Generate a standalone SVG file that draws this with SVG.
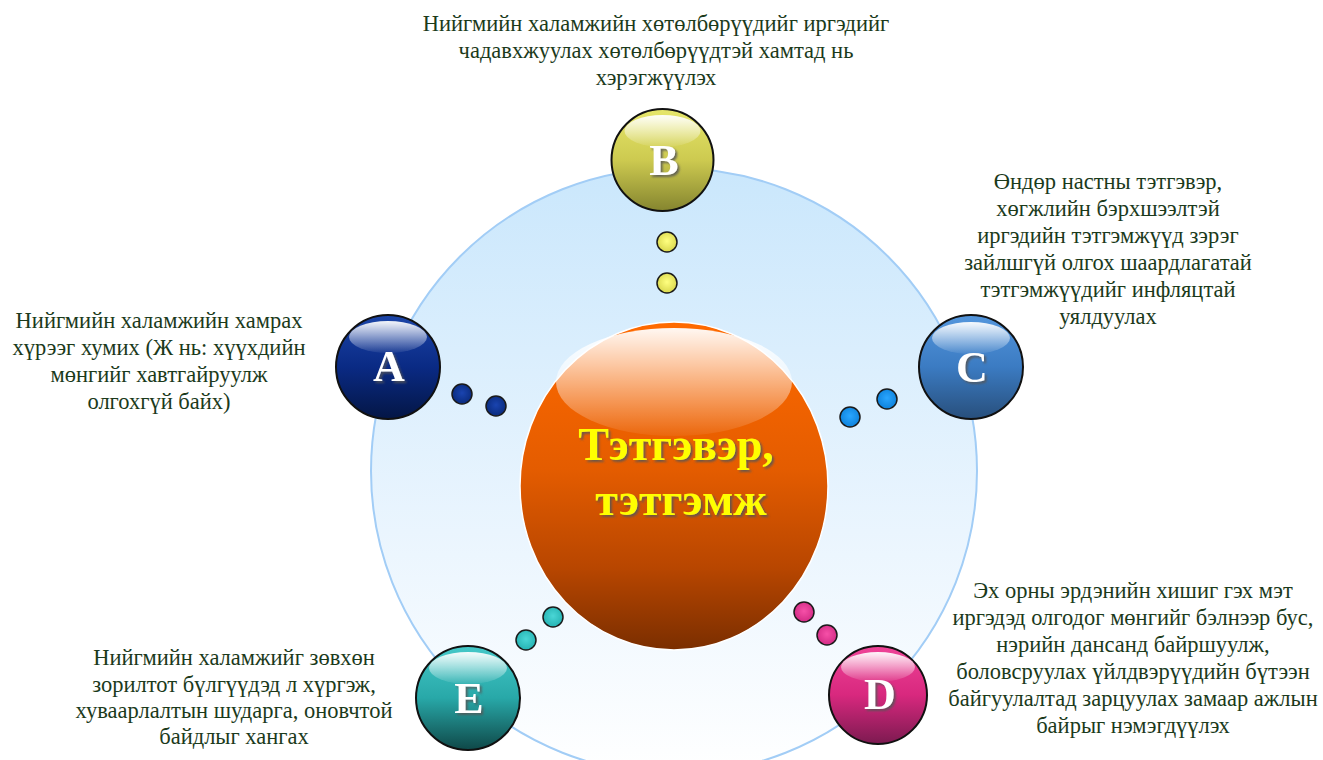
<svg xmlns="http://www.w3.org/2000/svg" width="1323" height="760" viewBox="0 0 1323 760">
<defs>
  <linearGradient id="gBig" x1="0" y1="0" x2="0" y2="1">
    <stop offset="0" stop-color="#cae7fc"/>
    <stop offset="0.6" stop-color="#eaf5fe"/>
    <stop offset="1" stop-color="#ffffff"/>
  </linearGradient>
  <linearGradient id="gOrange" x1="0" y1="0" x2="0" y2="1">
    <stop offset="0" stop-color="#ff6a00"/>
    <stop offset="0.45" stop-color="#e45c00"/>
    <stop offset="0.75" stop-color="#b84600"/>
    <stop offset="1" stop-color="#7a2e00"/>
  </linearGradient>
  <linearGradient id="gHi" x1="0" y1="0" x2="0" y2="1">
    <stop offset="0" stop-color="#ffffff" stop-opacity="0.95"/>
    <stop offset="0.55" stop-color="#ffffff" stop-opacity="0.45"/>
    <stop offset="1" stop-color="#ffffff" stop-opacity="0.05"/>
  </linearGradient>
  <linearGradient id="gA" x1="0" y1="0" x2="0" y2="1">
    <stop offset="0" stop-color="#1c45a8"/>
    <stop offset="0.5" stop-color="#0a2a84"/>
    <stop offset="1" stop-color="#041645"/>
  </linearGradient>
  <linearGradient id="gB" x1="0" y1="0" x2="0" y2="1">
    <stop offset="0" stop-color="#e6e66a"/>
    <stop offset="0.5" stop-color="#cdca50"/>
    <stop offset="1" stop-color="#85852f"/>
  </linearGradient>
  <linearGradient id="gC" x1="0" y1="0" x2="0" y2="1">
    <stop offset="0" stop-color="#5496dc"/>
    <stop offset="0.5" stop-color="#3b7bc2"/>
    <stop offset="1" stop-color="#284f7c"/>
  </linearGradient>
  <linearGradient id="gD" x1="0" y1="0" x2="0" y2="1">
    <stop offset="0" stop-color="#ef4398"/>
    <stop offset="0.5" stop-color="#d8287e"/>
    <stop offset="1" stop-color="#7c1a50"/>
  </linearGradient>
  <linearGradient id="gE" x1="0" y1="0" x2="0" y2="1">
    <stop offset="0" stop-color="#45c8c8"/>
    <stop offset="0.5" stop-color="#28a8a8"/>
    <stop offset="1" stop-color="#0f4848"/>
  </linearGradient>
  <radialGradient id="dA" cx="0.5" cy="0.45" r="0.6"><stop offset="0" stop-color="#1a44b0"/><stop offset="1" stop-color="#082878"/></radialGradient>
  <radialGradient id="dB" cx="0.5" cy="0.45" r="0.6"><stop offset="0" stop-color="#ffff80"/><stop offset="1" stop-color="#d6d448"/></radialGradient>
  <radialGradient id="dC" cx="0.5" cy="0.45" r="0.6"><stop offset="0" stop-color="#2aa6ff"/><stop offset="1" stop-color="#0a7ed8"/></radialGradient>
  <radialGradient id="dD" cx="0.5" cy="0.45" r="0.6"><stop offset="0" stop-color="#f650a8"/><stop offset="1" stop-color="#d02882"/></radialGradient>
  <radialGradient id="dE" cx="0.5" cy="0.45" r="0.6"><stop offset="0" stop-color="#4ad6d6"/><stop offset="1" stop-color="#22b0b0"/></radialGradient>
  <filter id="shadow" x="-20%" y="-20%" width="140%" height="140%">
    <feDropShadow dx="2" dy="2" stdDeviation="0.8" flood-color="#555555" flood-opacity="0.85"/>
  </filter>
</defs>
<style>
  .ball { stroke: #111111; stroke-width: 2; }
  .dot { stroke: #1a1a1a; stroke-width: 1.5; }
  .hi { fill: url(#gHi); }
  .letter { font-family: "Liberation Serif", "DejaVu Serif", serif; font-weight: bold; font-size: 44px; fill: #ffffff; text-anchor: middle; filter: url(#shadow); }
  .lbl { font-family: "Liberation Serif", "DejaVu Serif", serif; font-size: 22.5px; fill: #1b3a1b; text-anchor: middle; }
  .title { font-family: "Liberation Serif", "DejaVu Serif", serif; font-weight: bold; font-size: 46px; fill: #ffff00; text-anchor: middle; filter: url(#shadow); }
</style>

<g id="background">
  <circle cx="674" cy="471" r="303" fill="url(#gBig)" stroke="#a2cdf6" stroke-width="2"/>
</g>

<g id="connectors">
  <circle class="dot" cx="462" cy="394" r="10" fill="url(#dA)"/>
  <circle class="dot" cx="496" cy="406" r="10" fill="url(#dA)"/>
  <circle class="dot" cx="667" cy="242" r="10" fill="url(#dB)"/>
  <circle class="dot" cx="667" cy="283" r="10" fill="url(#dB)"/>
  <circle class="dot" cx="887" cy="399" r="10" fill="url(#dC)"/>
  <circle class="dot" cx="850" cy="417" r="10" fill="url(#dC)"/>
  <circle class="dot" cx="804" cy="612" r="10" fill="url(#dD)"/>
  <circle class="dot" cx="827" cy="635" r="10" fill="url(#dD)"/>
  <circle class="dot" cx="553" cy="617" r="10" fill="url(#dE)"/>
  <circle class="dot" cx="526" cy="640" r="10" fill="url(#dE)"/>
</g>

<g id="center">
  <ellipse cx="674" cy="486" rx="154" ry="164" fill="url(#gOrange)" stroke="#ffffff" stroke-width="1.5"/>
  <ellipse class="hi" cx="674" cy="382" rx="118" ry="54"/>
  <text class="title" x="676" y="460">Тэтгэвэр,</text>
  <text class="title" x="681" y="515">тэтгэмж</text>
</g>

<g id="node-A">
  <circle class="ball" cx="388" cy="367" r="52" fill="url(#gA)"/>
  <ellipse class="hi" cx="388" cy="337" rx="39" ry="16"/>
  <text class="letter" x="389" y="381">A</text>
  <text class="lbl" x="159"><tspan x="159" y="328">Нийгмийн халамжийн хамрах</tspan><tspan x="159" y="355">хүрээг хумих (Ж нь: хүүхдийн</tspan><tspan x="159" y="382">мөнгийг хавтгайруулж</tspan><tspan x="159" y="409">олгохгүй байх)</tspan></text>
</g>

<g id="node-B">
  <circle class="ball" cx="662.5" cy="160" r="51" fill="url(#gB)"/>
  <ellipse class="hi" cx="662.5" cy="131" rx="38" ry="16"/>
  <text class="letter" x="664" y="175">B</text>
  <text class="lbl" x="656"><tspan x="656" y="31">Нийгмийн халамжийн хөтөлбөрүүдийг иргэдийг</tspan><tspan x="656" y="58">чадавхжуулах хөтөлбөрүүдтэй хамтад нь</tspan><tspan x="656" y="85">хэрэгжүүлэх</tspan></text>
</g>

<g id="node-C">
  <circle class="ball" cx="971" cy="367" r="52" fill="url(#gC)"/>
  <ellipse class="hi" cx="971" cy="338" rx="39" ry="16"/>
  <text class="letter" x="972" y="382">C</text>
  <text class="lbl" x="1108"><tspan x="1108" y="189">Өндөр настны тэтгэвэр,</tspan><tspan x="1108" y="216">хөгжлийн бэрхшээлтэй</tspan><tspan x="1108" y="243">иргэдийн тэтгэмжүүд зэрэг</tspan><tspan x="1108" y="270">зайлшгүй олгох шаардлагатай</tspan><tspan x="1108" y="297">тэтгэмжүүдийг инфляцтай</tspan><tspan x="1108" y="324">уялдуулах</tspan></text>
</g>

<g id="node-D">
  <circle class="ball" cx="878" cy="695" r="49" fill="url(#gD)"/>
  <ellipse class="hi" cx="878" cy="667" rx="37" ry="15"/>
  <text class="letter" x="880" y="709">D</text>
  <text class="lbl" x="1133"><tspan x="1133" y="598">Эх орны эрдэнийн хишиг гэх мэт</tspan><tspan x="1133" y="625">иргэдэд олгодог мөнгийг бэлнээр бус,</tspan><tspan x="1133" y="652">нэрийн дансанд байршуулж,</tspan><tspan x="1133" y="679">боловсруулах үйлдвэрүүдийн бүтээн</tspan><tspan x="1133" y="706">байгуулалтад зарцуулах замаар ажлын</tspan><tspan x="1133" y="733">байрыг нэмэгдүүлэх</tspan></text>
</g>

<g id="node-E">
  <circle class="ball" cx="468" cy="698" r="52" fill="url(#gE)"/>
  <ellipse class="hi" cx="468" cy="668" rx="39" ry="16"/>
  <text class="letter" x="469" y="713">E</text>
  <text class="lbl" x="234"><tspan x="234" y="665">Нийгмийн халамжийг зөвхөн</tspan><tspan x="234" y="692">зорилтот бүлгүүдэд л хүргэж,</tspan><tspan x="234" y="718">хуваарлалтын шударга, оновчтой</tspan><tspan x="234" y="744">байдлыг хангах</tspan></text>
</g>
</svg>
